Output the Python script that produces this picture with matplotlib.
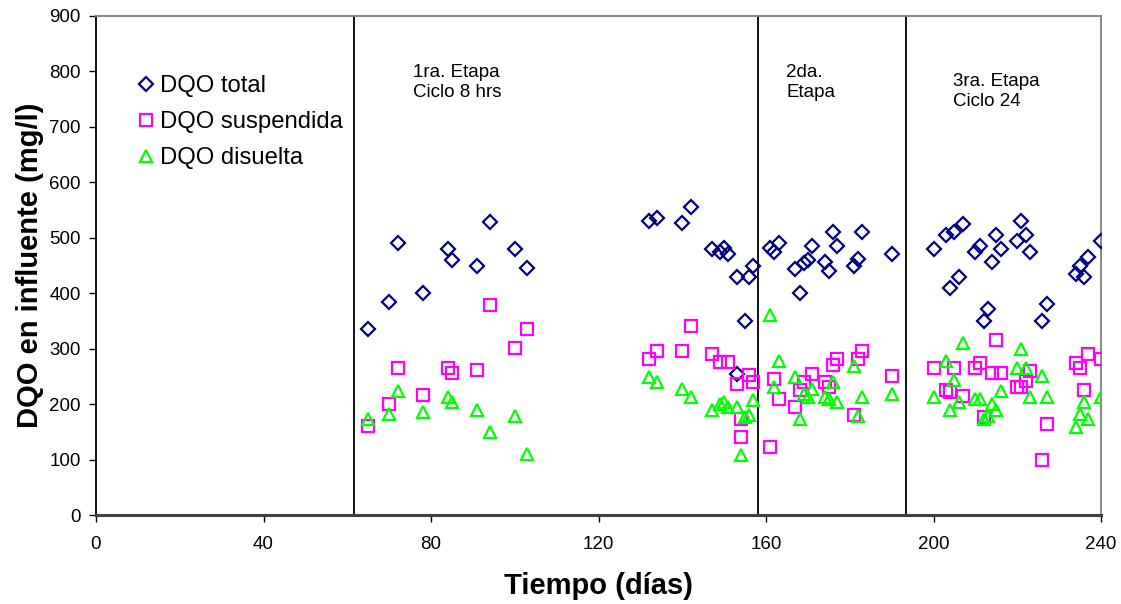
import matplotlib
matplotlib.use("Agg")
import matplotlib.pyplot as plt

plt.rcParams['font.family'] = ['Liberation Sans', 'DejaVu Sans']

# dias de muestreo y DQO (mg/l) por fraccion
dias_total = [65, 70, 72, 78, 84, 85, 91, 94, 100, 103,
              132, 134, 140, 142, 147, 149, 150, 151, 153, 153, 155, 156, 157,
              161, 162, 163, 167, 168, 169, 170, 171, 174, 175, 176, 177, 181, 182, 183, 190,
              200, 203, 204, 205, 206, 207, 210, 211, 212, 213, 214, 215, 216,
              220, 221, 222, 223, 226, 227, 234, 235, 236, 237, 240]
dqo_total = [335, 385, 490, 400, 480, 460, 450, 528, 480, 445,
             530, 535, 526, 555, 480, 475, 481, 470, 430, 255, 350, 430, 450,
             481, 475, 490, 444, 400, 454, 460, 485, 456, 440, 510, 485, 449, 461, 510, 470,
             480, 505, 410, 510, 430, 525, 475, 485, 350, 372, 456, 505, 480,
             495, 530, 505, 475, 350, 380, 435, 450, 430, 465, 495]

dias_susp = [65, 70, 72, 78, 84, 85, 91, 94, 100, 103,
             132, 134, 140, 142, 147, 149, 151, 153, 154, 154, 156, 157,
             161, 162, 163, 167, 168, 169, 171, 174, 175, 176, 177, 181, 182, 183, 190,
             200, 203, 204, 205, 207, 210, 211, 212, 214, 215, 216,
             220, 221, 222, 223, 226, 227, 234, 235, 236, 237, 240]
dqo_susp = [160, 200, 266, 216, 266, 256, 261, 379, 301, 335,
            281, 296, 296, 341, 290, 276, 276, 236, 174, 141, 252, 240,
            122, 246, 210, 195, 225, 240, 255, 240, 231, 270, 281, 180, 281, 296, 251,
            265, 225, 221, 265, 215, 265, 275, 176, 256, 316, 256,
            230, 230, 241, 260, 100, 165, 275, 265, 225, 290, 281]

dias_dis = [65, 70, 72, 78, 84, 85, 91, 94, 100, 103,
            132, 134, 140, 142, 147, 149, 150, 151, 153, 154, 155, 156, 157,
            161, 162, 163, 167, 168, 169, 170, 171, 174, 175, 176, 177, 181, 182, 183, 190,
            200, 203, 204, 205, 206, 207, 210, 211, 212, 213, 214, 215, 216,
            220, 221, 222, 223, 226, 227, 234, 235, 236, 237, 240]
dqo_dis = [174, 183, 224, 185, 213, 203, 189, 149, 179, 110,
           248, 239, 228, 213, 189, 201, 204, 195, 195, 108, 176, 180, 208,
           360, 230, 278, 248, 174, 219, 213, 228, 213, 209, 239, 204, 269, 179, 213, 219,
           213, 278, 189, 243, 204, 310, 209, 209, 174, 179, 200, 189, 224,
           265, 299, 265, 213, 250, 213, 159, 183, 204, 174, 213]

# limites entre etapas (dias)
limites = [61.5, 158, 193.5]
etapas = [(75.6, 814, "1ra. Etapa\nCiclo 8 hrs"),
          (164.8, 814, "2da.\nEtapa"),
          (204.7, 797, "3ra. Etapa\nCiclo 24")]

fig = plt.figure(figsize=(11.21, 6.04), dpi=100)
ax = fig.add_axes([96 / 1121, 1 - 515 / 604, 1005 / 1121, 499 / 604])

ax.plot(dias_total, dqo_total, linestyle='none', marker='D', ms=7,
        mfc='none', mec='#000080', mew=1.6, label='DQO total', zorder=3)
ax.plot(dias_susp, dqo_susp, linestyle='none', marker='s', ms=8.5,
        mfc='none', mec='#FF00FF', mew=1.6, label='DQO suspendida', zorder=3)
ax.plot(dias_dis, dqo_dis, linestyle='none', marker='^', ms=8.5,
        mfc='none', mec='#00FF00', mew=1.6, label='DQO disuelta', zorder=3)

for x in limites:
    ax.axvline(x, color='black', lw=1.3, zorder=2)

for x, y, txt in etapas:
    ax.text(x, y, txt, fontsize=13.5, va='top', ha='left', linespacing=1.25)

ax.set_xlim(0, 240)
ax.set_ylim(0, 900)
ax.set_xticks(range(0, 241, 40))
ax.set_yticks(range(0, 901, 100))
ax.tick_params(direction='out', length=5, width=1, labelsize=13.5)
ax.tick_params(axis='x', pad=10)
ax.tick_params(axis='y', pad=6)

ax.spines['left'].set_color('black')
ax.spines['left'].set_linewidth(1.3)
ax.spines['bottom'].set_color('#404040')
ax.spines['bottom'].set_linewidth(2.2)
for s in ('top', 'right'):
    ax.spines[s].set_color('#808080')
    ax.spines[s].set_linewidth(1.3)

ax.set_xlabel('Tiempo (días)', fontsize=21, fontweight='bold', labelpad=14)
ax.set_ylabel('DQO en influente (mg/l)', fontsize=21, fontweight='bold', labelpad=4)

ax.legend(loc='upper left', bbox_to_anchor=(0.033, 0.90), frameon=False,
          fontsize=17.2, handlelength=0.6, handletextpad=0.3, labelspacing=0.58,
          borderaxespad=0)

fig.savefig('out.png', dpi=100)
